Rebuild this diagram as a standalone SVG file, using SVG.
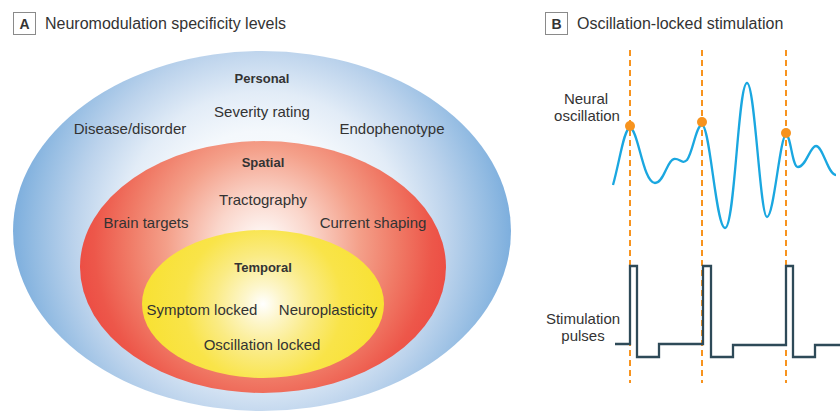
<svg xmlns="http://www.w3.org/2000/svg" width="840" height="411" viewBox="0 0 840 411">
<style>
text{font-family:"Liberation Sans",Arial,sans-serif;fill:#333;}
.t{font-size:15px;text-anchor:middle;}
.b{font-size:13px;font-weight:bold;text-anchor:middle;}
.h{font-size:16px;}
.box{fill:#fff;stroke:#8a8a8a;stroke-width:1;}
.lt{font-size:14px;font-weight:bold;text-anchor:middle;}
.dash{stroke:#f7931e;stroke-width:2;stroke-dasharray:6 4;fill:none;}
.dot{fill:#f7931e;}
</style>
<defs>
<radialGradient id="gBlue" gradientUnits="userSpaceOnUse" cx="262" cy="235" r="260">
<stop offset="0" stop-color="#ffffff"/>
<stop offset="0.4" stop-color="#f4f8fc"/>
<stop offset="0.55" stop-color="#e2ecf7"/>
<stop offset="0.72" stop-color="#bcd3ec"/>
<stop offset="0.88" stop-color="#92bbe2"/>
<stop offset="1" stop-color="#72a8db"/>
</radialGradient>
<radialGradient id="gRed" gradientUnits="userSpaceOnUse" cx="263" cy="245" r="192">
<stop offset="0" stop-color="#ffffff"/>
<stop offset="0.25" stop-color="#fad6cb"/>
<stop offset="0.5" stop-color="#f4a08a"/>
<stop offset="0.7" stop-color="#f07a66"/>
<stop offset="0.88" stop-color="#ed574a"/>
<stop offset="1" stop-color="#ec4a42"/>
</radialGradient>
<radialGradient id="gYel" gradientUnits="userSpaceOnUse" cx="263" cy="304" r="122">
<stop offset="0" stop-color="#ffffff"/>
<stop offset="0.15" stop-color="#fdf6cc"/>
<stop offset="0.4" stop-color="#faeb84"/>
<stop offset="0.65" stop-color="#f9e449"/>
<stop offset="1" stop-color="#f8e132"/>
</radialGradient>
</defs>
<rect width="840" height="411" fill="#fff"/>

<g id="headerA">
<rect class="box" x="13.5" y="12.5" width="22" height="22"/>
<text class="lt" x="24.5" y="29">A</text>
<text class="h" x="45" y="29">Neuromodulation specificity levels</text>
</g>

<g id="personal">
<ellipse cx="262" cy="231" rx="249" ry="180" fill="url(#gBlue)"/>
<text class="b" x="262" y="83">Personal</text>
<text class="t" x="262" y="117">Severity rating</text>
<text class="t" x="130" y="134">Disease/disorder</text>
<text class="t" x="392" y="134">Endophenotype</text>
</g>

<g id="spatial">
<ellipse cx="263" cy="267" rx="183" ry="126" fill="url(#gRed)"/>
<text class="b" x="263" y="167">Spatial</text>
<text class="t" x="263" y="205">Tractography</text>
<text class="t" x="146" y="228">Brain targets</text>
<text class="t" x="373" y="228">Current shaping</text>
</g>

<g id="temporal">
<ellipse cx="263" cy="304" rx="121" ry="74" fill="url(#gYel)"/>
<text class="b" x="263" y="272">Temporal</text>
<text class="t" x="202" y="315">Symptom locked</text>
<text class="t" x="328" y="315">Neuroplasticity</text>
<text class="t" x="262" y="350">Oscillation locked</text>
</g>

<g id="headerB">
<rect class="box" x="545.5" y="12.5" width="22" height="22"/>
<text class="lt" x="556.5" y="29">B</text>
<text class="h" x="577" y="29">Oscillation-locked stimulation</text>
</g>

<g id="connectors">
<line class="dash" x1="630" y1="50" x2="630" y2="383"/>
<line class="dash" x1="702" y1="50" x2="702" y2="383"/>
<line class="dash" x1="786" y1="50" x2="786" y2="383"/>
</g>

<g id="oscillation">
<path d="M613,185 C620,160 624,128 630,128 C638,128 643,183 655,183 C664,183 667,160 674,159 C680,158 682,165 687,160 C693,152 696,125 702,125 C710,125 716,228 725,228 C735,228 738,83 747,83 C755,83 760,217 767,217 C774,217 780,135 786,135 C791,135 792,167 798,167 C806,167 810,146 816,146 C823,146 828,175 836,175" fill="none" stroke="#1aa7e0" stroke-width="2.3"/>
<circle class="dot" cx="630" cy="126" r="5"/>
<circle class="dot" cx="702" cy="122" r="5"/>
<circle class="dot" cx="786" cy="133" r="5"/>
<text class="t" x="586" y="104">Neural</text>
<text class="t" x="587" y="121">oscillation</text>
</g>

<g id="pulses">
<path d="M615,344 H630 V266 H637 V357 H659 V344 H703 V266 H711 V357 H733 V345 H786 V266 H793 V357 H815 V345 H840" fill="none" stroke="#2e4a58" stroke-width="2.3"/>
<text class="t" x="583" y="324">Stimulation</text>
<text class="t" x="583" y="341">pulses</text>
</g>
</svg>
